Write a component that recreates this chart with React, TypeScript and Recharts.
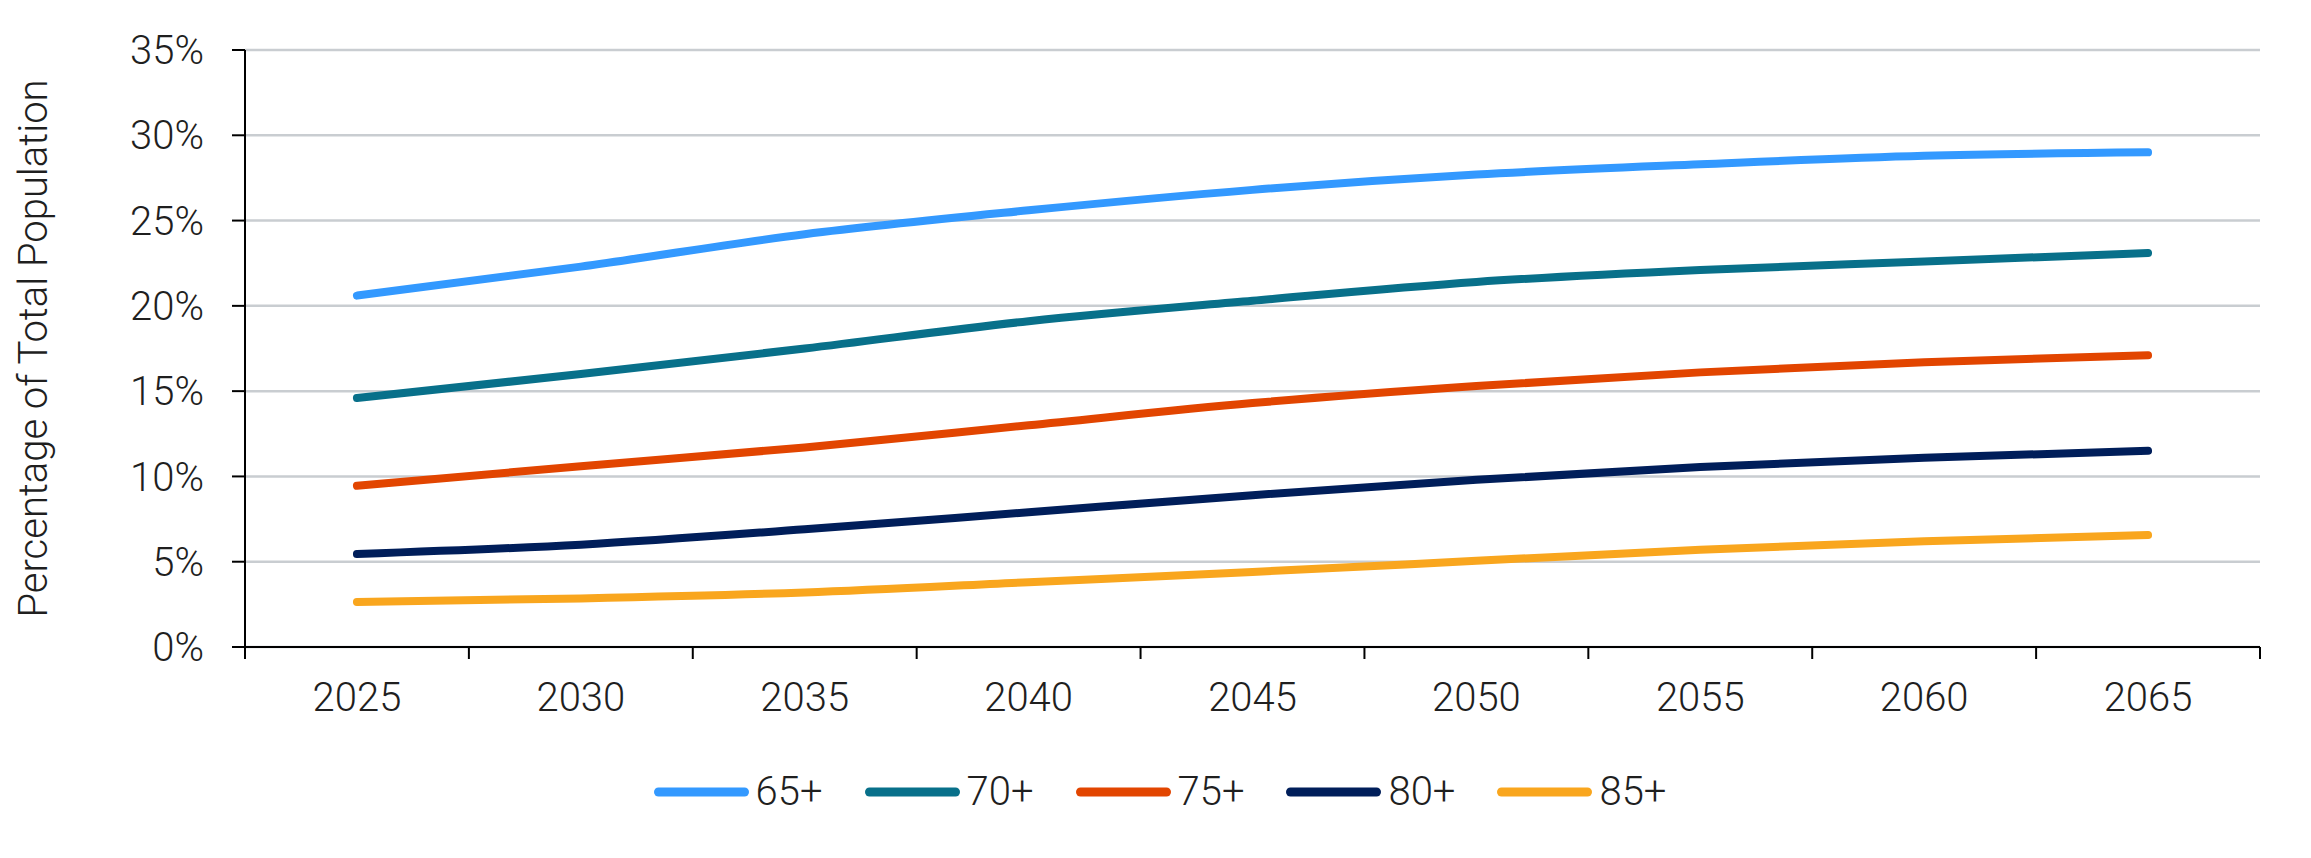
import React from 'react';
import { LineChart, Line, XAxis, YAxis, CartesianGrid, Legend } from 'recharts';

const categories = ['2025', '2030', '2035', '2040', '2045', '2050', '2055', '2060', '2065'];
const s65 = [20.6, 22.3, 24.2, 25.6, 26.8, 27.7, 28.3, 28.8, 29.0];
const s70 = [14.6, 16.0, 17.5, 19.1, 20.3, 21.4, 22.1, 22.6, 23.1];
const s75 = [9.45, 10.6, 11.7, 13.0, 14.3, 15.3, 16.1, 16.7, 17.1];
const s80 = [5.45, 6.0, 6.9, 7.9, 8.9, 9.8, 10.55, 11.1, 11.5];
const s85 = [2.64, 2.85, 3.2, 3.8, 4.4, 5.05, 5.7, 6.2, 6.56];
const seriesNames = ['65+', '70+', '75+', '80+', '85+'];
const seriesValues = [s65, s70, s75, s80, s85];
const seriesColors = ['#3399FF', '#08708A', '#E24500', '#001E5A', '#F9A61E'];
const yTicks = [0, 5, 10, 15, 20, 25, 30, 35];
const yTitle = 'Percentage of Total Population';

const data = categories.map((c, i) => {
  const row: any = { year: c };
  seriesNames.forEach((n, j) => {
    row[n] = seriesValues[j][i];
  });
  return row;
});

const FONT = 'Roboto, "Noto Sans", sans-serif';
const TEXT = '#1f1f1f';
const X_TICK_SIZE = 6;
const X_TICK_MARGIN = 30;

const XTick = (props: any) => {
  const { x, y, payload, index, visibleTicksCount, width } = props;
  const half = payload && payload.offset ? payload.offset : width / visibleTicksCount / 2;
  const axisY = y - X_TICK_SIZE - X_TICK_MARGIN;
  return (
    <g>
      <line x1={x - half} x2={x - half} y1={axisY} y2={axisY + 12} stroke="#000" strokeWidth={2} />
      {index === visibleTicksCount - 1 && (
        <line x1={x + half} x2={x + half} y1={axisY} y2={axisY + 12} stroke="#000" strokeWidth={2} />
      )}
      <text x={x} y={y} dy="0.71em" textAnchor="middle" fill={TEXT} fontSize={40} fontFamily={FONT} fontWeight={300}>
        {payload.value}
      </text>
    </g>
  );
};

const YTitle = (props: any) => {
  const vb = props.viewBox || {};
  const cx = 39;
  const cy = (vb.y || 0) + (vb.height || 0) / 2;
  return (
    <text
      x={cx}
      y={cy}
      transform={`rotate(-90, ${cx}, ${cy})`}
      textAnchor="middle"
      fill={TEXT}
      fontSize={40}
      fontFamily={FONT}
      fontWeight={300}
    >
      {yTitle}
    </text>
  );
};

const LegendContent = () => (
  <div
    style={{
      display: 'flex',
      justifyContent: 'center',
      alignItems: 'center',
      height: 60,
      gap: 42,
      paddingLeft: 8,
    }}
  >
    {seriesNames.map((n, i) => (
      <div key={n} style={{ display: 'flex', alignItems: 'center' }}>
        <svg width={95} height={10} style={{ display: 'block' }}>
          <line x1={4.5} x2={90.5} y1={5} y2={5} stroke={seriesColors[i]} strokeWidth={9} strokeLinecap="round" />
        </svg>
        <span style={{ marginLeft: 7, fontSize: 40, fontFamily: FONT, fontWeight: 300, color: TEXT, lineHeight: '60px' }}>
          {n}
        </span>
      </div>
    ))}
  </div>
);

export default function App() {
  return (
    <div style={{ width: 2296, height: 842, background: '#fff' }}>
      <LineChart width={2296} height={842} data={data} margin={{ top: 42, right: 44, left: 0, bottom: 28 }}>
        <CartesianGrid vertical={false} stroke="#c9cdd1" strokeWidth={2.5} />
        <XAxis
          dataKey="year"
          scale="band"
          height={115}
          axisLine={{ stroke: '#000', strokeWidth: 2 }}
          tickLine={false}
          tickSize={X_TICK_SIZE}
          tickMargin={X_TICK_MARGIN}
          tick={<XTick />}
          interval={0}
        />
        <YAxis
          width={237}
          domain={[0, 35]}
          ticks={yTicks}
          interval={0}
          tickFormatter={(v: number) => `${v}%`}
          axisLine={{ stroke: '#000', strokeWidth: 2 }}
          tickLine={{ stroke: '#000', strokeWidth: 2 }}
          tickSize={13}
          tickMargin={28}
          tick={{ fill: TEXT, fontSize: 40, fontFamily: FONT, fontWeight: 300 }}
          label={<YTitle />}
        />
        <Legend
          verticalAlign="bottom"
          content={<LegendContent />}
          wrapperStyle={{ left: 0, width: 2296 }}
        />
        {seriesNames.map((n, i) => (
          <Line
            key={n}
            type="monotone"
            dataKey={n}
            stroke={seriesColors[i]}
            strokeWidth={8}
            strokeLinecap="round"
            dot={false}
            activeDot={false}
            isAnimationActive={false}
          />
        ))}
      </LineChart>
    </div>
  );
}
